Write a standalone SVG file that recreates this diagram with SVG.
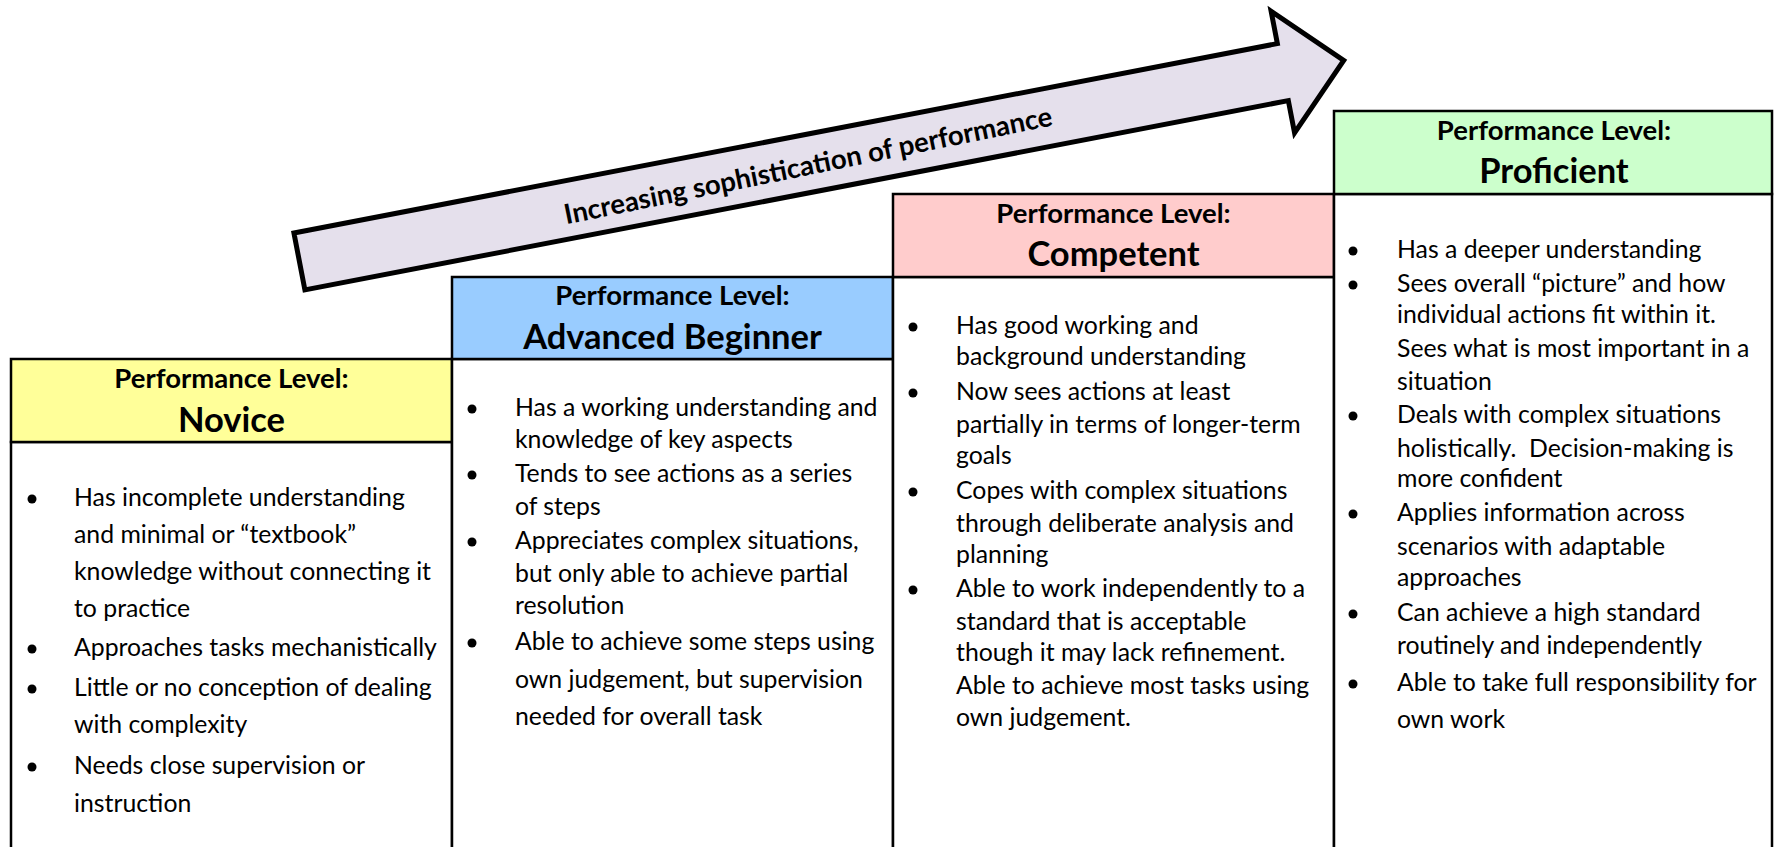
<svg xmlns="http://www.w3.org/2000/svg" width="1774" height="847" viewBox="0 0 1774 847">
<style>
.box{stroke:#000;stroke-width:2.5}
.body{fill:#fff}
.pl{font-family:Lato,"Liberation Sans",sans-serif;font-weight:bold;font-size:27.5px;fill:#000;text-anchor:middle}
.nm{font-family:Lato,"Liberation Sans",sans-serif;font-weight:bold;font-size:34.5px;fill:#000;text-anchor:middle}
.tx{font-family:Lato,"Liberation Sans",sans-serif;font-size:24.8px;fill:#000}
.bl{fill:#000}
.arrow{fill:#E5E0EC;stroke:#000;stroke-width:5;stroke-linejoin:miter}
.at{font-family:Lato,"Liberation Sans",sans-serif;font-weight:bold;font-size:27.5px;fill:#000;text-anchor:middle}
</style>
<rect width="1774" height="847" fill="#fff"/>

<g id="arrow">
<polygon class="arrow" transform="translate(291,231) rotate(-10.9)" points="2.5,2.5 1004,2.5 1004,-30.5 1066,31.5 1004,93.5 1004,60.5 2.5,60.5"/>
<text class="at" transform="translate(808,165) rotate(-11.5)" x="0" y="10">Increasing sophistication of performance</text>
</g>

<g id="novice">
<rect class="box body" x="11" y="442" width="441" height="420"/>
<rect class="box" x="11" y="359" width="441" height="83" fill="#FFFF99"/>
<text class="pl" x="231.5" y="388">Performance Level:</text>
<text class="nm" x="231.5" y="432">Novice</text>
<circle class="bl" cx="32" cy="499" r="4.5"/>
<circle class="bl" cx="32" cy="649" r="4.5"/>
<circle class="bl" cx="32" cy="689" r="4.5"/>
<circle class="bl" cx="32" cy="767" r="4.5"/>
<text class="tx" x="74" y="506">Has incomplete understanding</text>
<text class="tx" x="74" y="543">and minimal or “textbook”</text>
<text class="tx" x="74" y="580">knowledge without connecting it</text>
<text class="tx" x="74" y="617">to practice</text>
<text class="tx" x="74" y="656">Approaches tasks mechanistically</text>
<text class="tx" x="74" y="696">Little or no conception of dealing</text>
<text class="tx" x="74" y="733">with complexity</text>
<text class="tx" x="74" y="774">Needs close supervision or</text>
<text class="tx" x="74" y="812">instruction</text>
</g>

<g id="advanced-beginner">
<rect class="box body" x="452" y="359" width="441" height="503"/>
<rect class="box" x="452" y="277" width="441" height="82" fill="#99CCFF"/>
<text class="pl" x="672.5" y="305">Performance Level:</text>
<text class="nm" x="672.5" y="349">Advanced Beginner</text>
<circle class="bl" cx="472" cy="409" r="4.5"/>
<circle class="bl" cx="472" cy="475" r="4.5"/>
<circle class="bl" cx="472" cy="542" r="4.5"/>
<circle class="bl" cx="472" cy="643" r="4.5"/>
<text class="tx" x="515" y="416">Has a working understanding and</text>
<text class="tx" x="515" y="448">knowledge of key aspects</text>
<text class="tx" x="515" y="482">Tends to see actions as a series</text>
<text class="tx" x="515" y="515">of steps</text>
<text class="tx" x="515" y="549">Appreciates complex situations,</text>
<text class="tx" x="515" y="582">but only able to achieve partial</text>
<text class="tx" x="515" y="614">resolution</text>
<text class="tx" x="515" y="650">Able to achieve some steps using</text>
<text class="tx" x="515" y="688">own judgement, but supervision</text>
<text class="tx" x="515" y="725">needed for overall task</text>
</g>

<g id="competent">
<rect class="box body" x="893" y="277" width="441" height="585"/>
<rect class="box" x="893" y="194" width="441" height="83" fill="#FFCCCC"/>
<text class="pl" x="1113.5" y="223">Performance Level:</text>
<text class="nm" x="1113.5" y="266">Competent</text>
<circle class="bl" cx="913" cy="327" r="4.5"/>
<circle class="bl" cx="913" cy="393" r="4.5"/>
<circle class="bl" cx="913" cy="492" r="4.5"/>
<circle class="bl" cx="913" cy="590" r="4.5"/>
<text class="tx" x="956" y="334">Has good working and</text>
<text class="tx" x="956" y="365">background understanding</text>
<text class="tx" x="956" y="400">Now sees actions at least</text>
<text class="tx" x="956" y="433">partially in terms of longer-term</text>
<text class="tx" x="956" y="464">goals</text>
<text class="tx" x="956" y="499">Copes with complex situations</text>
<text class="tx" x="956" y="532">through deliberate analysis and</text>
<text class="tx" x="956" y="563">planning</text>
<text class="tx" x="956" y="597">Able to work independently to a</text>
<text class="tx" x="956" y="630">standard that is acceptable</text>
<text class="tx" x="956" y="661">though it may lack refinement.</text>
<text class="tx" x="956" y="694">Able to achieve most tasks using</text>
<text class="tx" x="956" y="726">own judgement.</text>
</g>

<g id="proficient">
<rect class="box body" x="1334" y="194" width="438" height="668"/>
<rect class="box" x="1334" y="111" width="438" height="83" fill="#CCFFCC"/>
<text class="pl" x="1554" y="140">Performance Level:</text>
<text class="nm" x="1554" y="183">Proficient</text>
<circle class="bl" cx="1353" cy="251" r="4.5"/>
<circle class="bl" cx="1353" cy="285" r="4.5"/>
<circle class="bl" cx="1353" cy="416" r="4.5"/>
<circle class="bl" cx="1353" cy="514" r="4.5"/>
<circle class="bl" cx="1353" cy="614" r="4.5"/>
<circle class="bl" cx="1353" cy="684" r="4.5"/>
<text class="tx" x="1397" y="258">Has a deeper understanding</text>
<text class="tx" x="1397" y="292">Sees overall “picture” and how</text>
<text class="tx" x="1397" y="323">individual actions fit within it.</text>
<text class="tx" x="1397" y="357">Sees what is most important in a</text>
<text class="tx" x="1397" y="390">situation</text>
<text class="tx" x="1397" y="423">Deals with complex situations</text>
<text class="tx" x="1397" y="457" xml:space="preserve">holistically.  Decision-making is</text>
<text class="tx" x="1397" y="487">more confident</text>
<text class="tx" x="1397" y="521">Applies information across</text>
<text class="tx" x="1397" y="555">scenarios with adaptable</text>
<text class="tx" x="1397" y="586">approaches</text>
<text class="tx" x="1397" y="621">Can achieve a high standard</text>
<text class="tx" x="1397" y="654">routinely and independently</text>
<text class="tx" x="1397" y="691">Able to take full responsibility for</text>
<text class="tx" x="1397" y="728">own work</text>
</g>
</svg>
